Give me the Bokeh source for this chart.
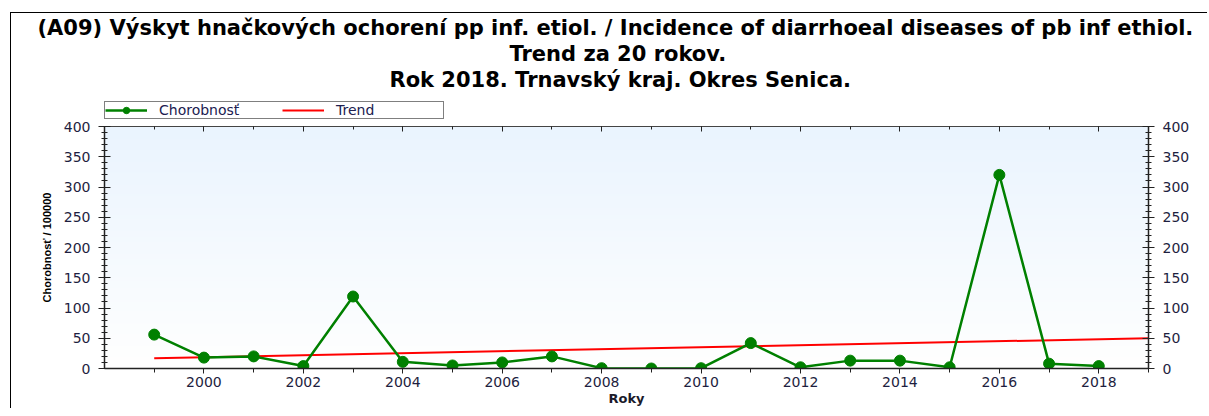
import numpy as np
from bokeh.plotting import figure
from bokeh.layouts import column
from bokeh.models import (Range1d, LinearAxis, FixedTicker, SingleIntervalTicker,
                          Legend, LegendItem, Title)
from bokeh.embed import file_html
from bokeh.resources import INLINE

# ---- data ----
years = [1999, 2000, 2001, 2002, 2003, 2004, 2005, 2006, 2007, 2008,
         2009, 2010, 2011, 2012, 2013, 2014, 2015, 2016, 2017, 2018]
incidence = [56, 18, 20, 4, 119, 11, 5, 10, 20, 0.5,
             0, 0.5, 42, 2, 13, 13, 2, 320, 8, 4]
trend_years = [1999, 2019]
trend_values = [17, 50]
x_major_ticks = [2000, 2002, 2004, 2006, 2008, 2010, 2012, 2014, 2016, 2018]
x_minor_ticks = [1999, 2000, 2001, 2002, 2003, 2004, 2005, 2006, 2007, 2008,
                 2009, 2010, 2011, 2012, 2013, 2014, 2015, 2016, 2017, 2018, 2019]
title_lines = ["(A09) Výskyt hnačkových ochorení pp inf. etiol. / Incidence of diarrhoeal diseases of pb inf ethiol.",
               "Trend za 20 rokov.",
               "Rok 2018. Trnavský kraj. Okres Senica."]
y_label = "Chorobnosť / 100000"
x_label = "Roky"
series_names = ["Chorobnosť", "Trend"]

GREEN = "#008000"
RED = "#ff0000"
W = 1196
TOP_H = 107
MAIN_H = 288
FL, FB = 93, 40
FR = W - 1137

# ---------------- header figure (titles + legend) ----------------
head = figure(width=W, height=TOP_H, output_backend="svg", toolbar_location=None, title=None,
              x_range=Range1d(0, 1), y_range=Range1d(0, 1),
              x_axis_type=None, y_axis_type=None,
              min_border_left=FL, min_border_right=FR, min_border_top=80, min_border_bottom=0,
              background_fill_color="white", border_fill_color="white")
head.outline_line_color = None

# titles are stacked outward from the frame: last line first
title_offsets = [-67, 405, 285]
title_valign = ["bottom", "bottom", "top"]
title_standoffs = [0, 0, 4]
for txt, off, va, so in reversed(list(zip(title_lines, title_offsets, title_valign, title_standoffs))):
    head.add_layout(Title(text=txt, align="left", offset=off, vertical_align=va, standoff=so,
                          text_font="DejaVu Sans", text_font_style="bold",
                          text_font_size="21px", text_color="black"), "above")

# legend proxies: same styles as the data renderers, their points lie outside this panel's view
lg_line = head.line(years, incidence, line_color=GREEN, line_width=2.5)
lg_dot = head.scatter(years, incidence, size=11, marker="circle", fill_color=GREEN, line_color=GREEN)
lg_trend = head.line(trend_years, trend_values, line_color=RED, line_width=2)

legend = Legend(items=[LegendItem(label=series_names[0], renderers=[lg_line, lg_dot]),
                       LegendItem(label=series_names[1], renderers=[lg_trend])],
                orientation="horizontal", location=(0, 1),
                glyph_width=42, glyph_height=16, label_standoff=12, spacing=16,
                padding=0, margin=0, label_width=107, label_height=12,
                border_line_color="black", border_line_width=1.2,
                label_text_font="DejaVu Sans", label_text_font_size="14px",
                label_text_color="#202050", background_fill_color="white", background_fill_alpha=1)
head.add_layout(legend)

# ---------------- main chart ----------------
p = figure(width=W, height=MAIN_H, output_backend="svg", toolbar_location=None, title=None,
           x_range=Range1d(1998, 2019), y_range=Range1d(0, 400),
           x_axis_type=None, y_axis_type=None,
           min_border_left=FL, min_border_right=FR, min_border_top=6, min_border_bottom=FB,
           background_fill_color="white", border_fill_color="white")
p.outline_line_color = None

# background gradient of the plot area
N = 200
img = np.empty((N, 1), dtype=np.uint32)
v = img.view(dtype=np.uint8).reshape((N, 1, 4))
t = np.linspace(0, 1, N)
top = np.array([234, 244, 254])
for c in range(3):
    v[:, 0, c] = (255 + (top[c] - 255) * t).astype(np.uint8)
v[:, 0, 3] = 255
p.image_rgba(image=[img], x=1998, y=0, dw=21, dh=400, level="image")

tick_color = "#1e1e40"
axis_font = "DejaVu Sans"

def yaxis():
    return LinearAxis(ticker=SingleIntervalTicker(interval=50, num_minor_ticks=5),
                      major_tick_in=6, major_tick_out=6, minor_tick_in=3, minor_tick_out=3,
                      major_label_standoff=8,
                      axis_line_color="#222", major_tick_line_color="#222", minor_tick_line_color="#222",
                      axis_line_width=1.5,
                      major_label_text_font=axis_font, major_label_text_font_size="14px",
                      major_label_text_color=tick_color)

left = yaxis()
left.axis_label = y_label
left.axis_label_text_font = "Liberation Sans"
left.axis_label_text_font_style = "bold"
left.axis_label_text_font_size = "11px"
left.axis_label_text_color = "black"
left.axis_label_standoff = 8
p.add_layout(left, "left")
right = yaxis()
p.add_layout(right, "right")

bottom = LinearAxis(ticker=FixedTicker(ticks=x_major_ticks, minor_ticks=x_minor_ticks),
                    major_tick_in=0, major_tick_out=5, minor_tick_in=0, minor_tick_out=4,
                    major_label_standoff=3,
                    axis_line_color="#222", major_tick_line_color="#222", minor_tick_line_color="#222",
                    axis_line_width=1.5,
                    major_label_text_font=axis_font, major_label_text_font_size="14px",
                    major_label_text_color=tick_color,
                    axis_label=x_label, axis_label_standoff=1,
                    axis_label_text_font="DejaVu Sans", axis_label_text_font_style="bold",
                    axis_label_text_font_size="13px", axis_label_text_color="#1a1a2a")
p.add_layout(bottom, "below")

topax = LinearAxis(ticker=FixedTicker(ticks=x_major_ticks, minor_ticks=x_minor_ticks),
                   major_tick_in=5, major_tick_out=0, minor_tick_in=3, minor_tick_out=0,
                   major_label_standoff=0,
                   axis_line_color="#444", major_tick_line_color="#222", minor_tick_line_color="#222",
                   major_label_text_color=None, major_label_text_font_size="0px")
p.add_layout(topax, "above")

p.line(trend_years, trend_values, line_color=RED, line_width=2)
p.line(years, incidence, line_color=GREEN, line_width=2.5)
p.scatter(years, incidence, size=11, marker="circle", fill_color=GREEN, line_color=GREEN)

layout = column(head, p, spacing=0,
                styles={"margin-left": "10px", "margin-top": "12px",
                        "border-left": "1px solid black", "border-top": "1px solid black"})

open("out.html", "w").write(file_html(layout, INLINE))
